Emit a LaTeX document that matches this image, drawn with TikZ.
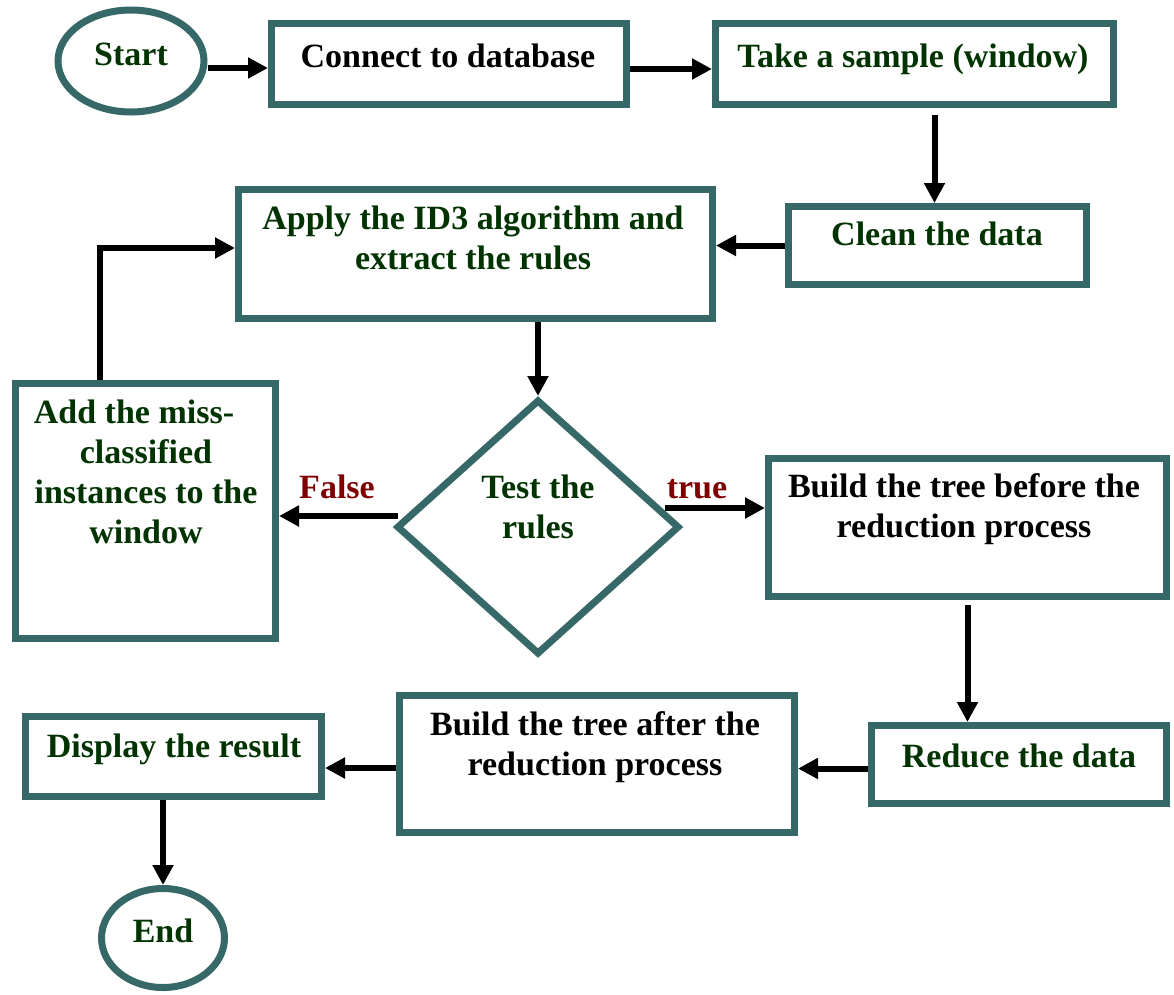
\documentclass[tikz,border=0pt]{standalone}
\usepackage{fontspec}
\setmainfont{Liberation Serif}
\usetikzlibrary{arrows.meta,shapes.geometric,calc}
\definecolor{teal}{RGB}{54,104,104}
\definecolor{dgreen}{RGB}{0,51,0}
\definecolor{dred}{RGB}{128,0,0}
\begin{document}
\begin{tikzpicture}[x=1pt,y=-1pt,
  box/.style={draw=teal,line width=7pt,rectangle,inner sep=0pt,fill=white},
  oval/.style={draw=teal,line width=7pt,ellipse,inner sep=0pt,fill=white},
  dia/.style={draw=teal,line width=7pt,diamond,inner sep=0pt,fill=white},
  txt/.style={font=\fontsize{34}{40}\selectfont\bfseries,text=dgreen,align=center,anchor=base,inner sep=0pt},
  btxt/.style={txt,text=black},
  rtxt/.style={txt,text=dred},
  arr/.style={line width=6pt,-{Triangle[length=20pt,width=20pt]}}]
\useasboundingbox (0,0) rectangle (1174,994);
% shapes
\node[oval,minimum width=146pt,minimum height=102pt] (start) at (131,61) {};
\node[box,minimum width=355pt,minimum height=81pt] (connect) at (449,64) {};
\node[box,minimum width=398pt,minimum height=81pt] (take) at (914.5,64) {};
\node[box,minimum width=298pt,minimum height=78pt] (clean) at (937.5,245.5) {};
\node[box,minimum width=474pt,minimum height=129pt] (apply) at (475.5,254) {};
\node[box,minimum width=260pt,minimum height=255pt] (add) at (145.5,511) {};
\node[dia,minimum width=283pt,minimum height=255pt] (test) at (538,527) {};
\node[box,minimum width=398pt,minimum height=138pt] (bbefore) at (967.5,527.5) {};
\node[box,minimum width=295pt,minimum height=78pt] (reduce) at (1019,764.5) {};
\node[box,minimum width=395pt,minimum height=137pt] (bafter) at (597,764) {};
\node[box,minimum width=296pt,minimum height=80pt] (display) at (173.5,756.5) {};
\node[oval,minimum width=123pt,minimum height=99pt] (end) at (163,938) {};
% texts (multi-line nodes: base = last line's baseline)
\node[txt] (tstart) at (131,65) {Start};
\node[btxt] (tconnect) at (448,67) {Connect to database};
\node[txt] (ttake) at (913,67) {Take a sample (window)};
\node[txt] (tclean) at (937,245) {Clean the data};
\node[txt] (tapply) at (473,269) {Apply the ID3 algorithm and\\extract the rules};
\node[txt] (tadd) at (146,543) {Add the miss-\hspace*{24pt}\\classified\\instances to the\\window};
\node[txt] (ttest) at (538,538) {Test the\\rules};
\node[btxt] (tbbefore) at (964,537) {Build the tree before the\\reduction process};
\node[txt] (treduce) at (1019,767) {Reduce the data};
\node[btxt] (tbafter) at (595,775) {Build the tree after the\\reduction process};
\node[txt] (tdisplay) at (174,757) {Display the result};
\node[txt] (tend) at (163,942) {End};
\node[rtxt] (lfalse) at (337,498) {False};
\node[rtxt] (ltrue) at (697,498) {true};
% connectors
\coordinate (loopx) at (100,0);
\draw[arr] ($(start.east)+(0,7)$) coordinate (s1) -- (s1 -| connect.west);
\draw[arr] ($(connect.east)+(0,5)$) coordinate (s2) -- (s2 -| take.west);
\draw[arr] ($(take.south -| clean)+(-3,7)$) coordinate (s3) -- (s3 |- clean.north);
\draw[arr] (clean.west) -- (clean.west -| apply.east);
\draw[arr] (apply.south -| test) -- (test.north);
\draw[arr] (add.north -| loopx) |- ($(apply.west)+(0,-6)$);
\draw[arr] ($(test.west)+(5,-11)$) coordinate (fs) -- (fs -| add.east);
\draw[arr] ($(test.east)+(-18,-19)$) coordinate (ts) -- (ts -| bbefore.west);
\draw[arr] ($(bbefore.south)+(0,5)$) coordinate (s4) -- (s4 |- reduce.north);
\draw[arr] ($(reduce.west)+(0,4)$) coordinate (s5) -- (s5 -| bafter.east);
\draw[arr] ($(bafter.west)+(0,4)$) coordinate (s6) -- (s6 -| display.east);
\draw[arr] (display.south -| end) -- (end.north);
\end{tikzpicture}
\end{document}
